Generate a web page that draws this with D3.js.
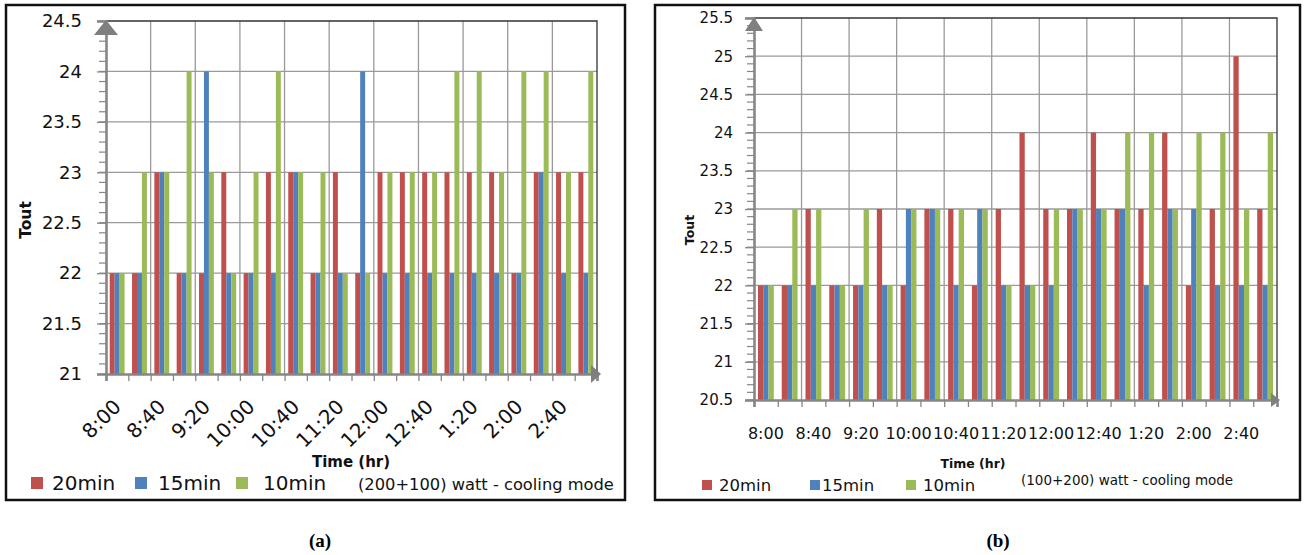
<!DOCTYPE html>
<html><head><meta charset="utf-8">
<script src="https://cdn.jsdelivr.net/npm/d3@7/dist/d3.min.js"></script>
<style>body{margin:0;background:#fff}svg{display:block}</style>
</head><body>
<svg id="c" width="1304" height="555"></svg>
<script>
// ---------- data ----------
const categories = ["8:00","8:20","8:40","9:00","9:20","9:40","10:00","10:20","10:40","11:00","11:20",
  "11:40","12:00","12:20","12:40","1:00","1:20","1:40","2:00","2:20","2:40","3:00"];
const tickLabels = ["8:00","8:40","9:20","10:00","10:40","11:20","12:00","12:40","1:20","2:00","2:40"];
const seriesNames = ["20min","15min","10min"];
const seriesColors = ["#C0504D","#4F81BD","#9BBB59"];

const aRed   = [22,22,23,22,22,23,22,23,23,22,23,22,23,23,23,23,23,23,22,23,23,23];
const aBlue  = [22,22,23,22,24,22,22,22,23,22,22,24,22,22,22,22,22,22,22,23,22,22];
const aGreen = [22,23,23,24,23,22,23,24,23,23,22,22,23,23,23,24,24,23,24,24,23,24];

const bRed   = [22,22,23,22,22,23,22,23,23,22,23,24,23,23,24,23,23,24,22,23,25,23];
const bBlue  = [22,22,22,22,22,22,23,23,22,23,22,22,22,23,23,23,22,23,23,22,22,22];
const bGreen = [22,23,23,22,23,22,23,23,23,23,22,22,23,23,23,24,24,23,24,24,23,24];

const aYTicks = [21,21.5,22,22.5,23,23.5,24,24.5];
const bYTicks = [20.5,21,21.5,22,22.5,23,23.5,24,24.5,25,25.5];
const yTitle = "Tout";
const xTitle = "Time (hr)";
const aNote = "(200+100) watt - cooling mode";
const bNote = "(100+200) watt - cooling mode";
const aCaption = "(a)";
const bCaption = "(b)";

// ---------- drawing ----------
const svg = d3.select("#c");
const FONT = "'DejaVu Sans', sans-serif";
const AXIS = "#868686";
const GRID = "#9a9a9a";

function panel(o) {
  const g = svg.append("g");
  const series = [o.red, o.blue, o.green];
  const x = d3.scaleBand().domain(categories).range([o.x0, o.x1]).paddingInner(1/3).paddingOuter(1/6);
  const xb = d3.scaleLinear().domain([0, categories.length]).range([o.x0, o.x1]);
  const xs = d3.scaleBand().domain(d3.range(series.length)).range([0, x.bandwidth()]);
  const y = d3.scaleLinear().domain([o.ticks[0], o.ticks[o.ticks.length-1]]).range([o.y0, o.y1]);
  const ymin = o.ticks[0], ymax = o.ticks[o.ticks.length-1];

  // frame
  g.append("rect").attr("x", o.frame[0]).attr("y", o.frame[1])
    .attr("width", o.frame[2]-o.frame[0]).attr("height", o.frame[3]-o.frame[1])
    .attr("fill","none").attr("stroke","#111").attr("stroke-width",2.5);

  // horizontal gridlines
  g.append("g").selectAll("line").data(o.ticks.slice(1, -1)).join("line")
    .attr("x1", o.x0).attr("x2", o.x1).attr("y1", d=>y(d)).attr("y2", d=>y(d))
    .attr("stroke", GRID).attr("stroke-width", 1.3);
  // vertical gridlines every 2 categories
  g.append("g").selectAll("line").data(d3.range(2, categories.length, 2)).join("line")
    .attr("x1", d=>xb(d)).attr("x2", d=>xb(d)).attr("y1", o.y1).attr("y2", o.y0)
    .attr("stroke", GRID).attr("stroke-width", 1.3);
  // plot-area top / right border
  g.append("path").attr("d", `M${o.x0},${y(ymax)}H${o.x1}V${y(ymin)}`)
    .attr("fill","none").attr("stroke","#333").attr("stroke-width",1.3);

  // bars
  series.forEach((vals, si) => {
    g.append("g").selectAll("rect").data(vals).join("rect")
      .attr("x", (d,i)=>x(categories[i]) + xs(si))
      .attr("width", xs.bandwidth())
      .attr("y", d=>y(d))
      .attr("height", d=>y(ymin)-y(d))
      .attr("fill", seriesColors[si]);
  });

  // y axis minor ticks
  const minor = d3.range(Math.round(ymin*10), Math.round(ymax*10)+1).map(v=>v/10);
  g.append("g").selectAll("line").data(minor).join("line")
    .attr("x1", o.x0-7).attr("x2", o.x0).attr("y1", d=>y(d)).attr("y2", d=>y(d))
    .attr("stroke", AXIS).attr("stroke-width", 1.2);
  // y axis
  const ya = g.append("g").attr("transform", `translate(${o.x0},0)`)
    .call(d3.axisLeft(y).tickValues(o.ticks).tickSize(9).tickPadding(o.yPad).tickFormat(d3.format("")));
  ya.select(".domain").attr("stroke", AXIS).attr("stroke-width", 2.6);
  ya.selectAll(".tick line").attr("stroke", AXIS).attr("stroke-width", 1.3);
  ya.selectAll(".tick text").attr("font-family", FONT).attr("font-size", o.yFont).attr("fill","#111");

  // x axis (ticks at category boundaries)
  const xa = g.append("g").attr("transform", `translate(0,${o.y0})`)
    .call(d3.axisBottom(xb).tickValues(d3.range(categories.length+1)).tickSize(o.xTick).tickFormat(""));
  xa.select(".domain").attr("stroke", AXIS).attr("stroke-width", 2.6);
  xa.selectAll(".tick line").attr("stroke", AXIS).attr("stroke-width", 1.3);

  // arrows
  const up = o.upArrow, rt = o.rightArrow;
  g.append("path").attr("d", `M${o.x0},${y(ymax)-1}l${-up[0]/2},${up[1]}h${up[0]}z`).attr("fill", "#7f7f7f");
  g.append("path").attr("d", `M${o.x1+rt[0]-6},${o.y0}l${-rt[0]},${-rt[1]/2}v${rt[1]}z`).attr("fill", "#7f7f7f");

  // x tick labels
  const lab = g.append("g").selectAll("text").data(tickLabels).join("text")
    .attr("font-family", FONT).attr("font-size", o.xFont).attr("fill", "#111")
    .text(d=>d);
  if (o.rotate) {
    lab.attr("text-anchor","end")
      .attr("transform", d=>`translate(${x(d)+x.bandwidth()/2+o.xLabDx},${o.xLabY}) rotate(-45)`);
  } else {
    lab.attr("text-anchor","middle").attr("x", d=>x(d)+x.bandwidth()/2).attr("y", o.xLabY);
  }

  // titles
  g.append("text").attr("x", o.xTitle[0]).attr("y", o.xTitle[1]).attr("text-anchor","middle")
    .attr("font-family", FONT).attr("font-weight","bold").attr("font-size", o.xTitle[2]).attr("fill","#111").text(xTitle);
  g.append("text").attr("transform", `translate(${o.yTitle[0]},${o.yTitle[1]}) rotate(-90)`).attr("text-anchor","middle")
    .attr("font-family", FONT).attr("font-weight","bold").attr("font-size", o.yTitle[2]).attr("fill","#111").text(yTitle);

  // legend
  seriesNames.forEach((n, i) => {
    g.append("rect").attr("x", o.legX[i]).attr("y", o.legSq[0]).attr("width", o.legSq[1]).attr("height", o.legSq[1])
      .attr("fill", seriesColors[i]);
    g.append("text").attr("x", o.legTx[i]).attr("y", o.legY).attr("font-family", FONT).attr("font-size", o.legFont)
      .attr("fill","#111").text(n);
  });
  g.append("text").attr("x", o.note[0]).attr("y", o.note[1]).attr("font-family", FONT).attr("font-size", o.note[2])
    .attr("fill","#111").text(o.noteText);

  g.append("text").attr("x", o.caption[0]).attr("y", o.caption[1]).attr("text-anchor","middle")
    .attr("font-family","'Liberation Serif', serif").attr("font-weight","bold").attr("font-size", 19)
    .attr("fill","#000").text(o.captionText);
}

panel({
  red: aRed, blue: aBlue, green: aGreen, ticks: aYTicks,
  frame: [6, 5, 625, 500], x0: 106, x1: 597, y0: 374, y1: 21,
  yPad: 15, yFont: 18, xTick: 7, xFont: 20, rotate: true, xLabDx: 5, xLabY: 408,
  upArrow: [24, 15], rightArrow: [10, 18],
  xTitle: [351, 467, 15], yTitle: [31, 220, 15.5],
  legX: [31, 135, 236], legTx: [52, 158, 263], legSq: [477, 12], legY: 490, legFont: 20,
  note: [358, 490, 16.3], noteText: aNote, caption: [320, 547], captionText: aCaption
});

panel({
  red: bRed, blue: bBlue, green: bGreen, ticks: bYTicks,
  frame: [655, 5, 1300, 500], x0: 754, x1: 1277, y0: 400, y1: 18,
  yPad: 12, yFont: 15, xTick: 7, xFont: 16, rotate: false, xLabY: 439,
  upArrow: [18, 14], rightArrow: [9, 14],
  xTitle: [973, 468, 12.5], yTitle: [694, 230, 12.5],
  legX: [702, 810, 906], legTx: [719, 822, 923], legSq: [480, 10], legY: 491, legFont: 16.5,
  note: [1021, 485, 13.5], noteText: bNote, caption: [998, 547], captionText: bCaption
});
</script>
</body></html>
